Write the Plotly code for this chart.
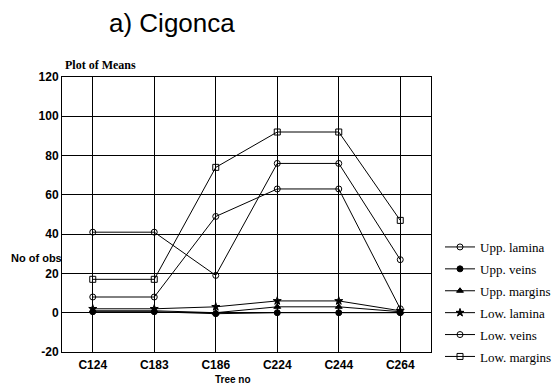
import plotly.graph_objects as go

categories = ["C124", "C183", "C186", "C224", "C244", "C264"]
upp_lamina = [8, 8, 49, 63, 63, 2]
upp_veins = [0.5, 0.5, -0.5, 0, 0, 0]
upp_margins = [1, 1, 0, 3, 3, 0.5]
low_lamina = [2, 2, 3, 6, 6, 1]
low_veins = [41, 41, 19, 76, 76, 27]
low_margins = [17, 17, 74, 92, 92, 47]
y_ticks = [-20, 0, 20, 40, 60, 80, 100, 120]
y_tick_labels = ["-20", "0", "20", "40", "60", "80", "100", "120"]

series = [
    ("Upp. lamina", upp_lamina, "circle-open"),
    ("Upp. veins", upp_veins, "circle"),
    ("Upp. margins", upp_margins, "triangle-up"),
    ("Low. lamina", low_lamina, "star"),
    ("Low. veins", low_veins, "circle-open"),
    ("Low. margins", low_margins, "square-open"),
]

fig = go.Figure()
for i, (name, vals, sym) in enumerate(series):
    fig.add_trace(go.Scatter(
        x=categories, y=vals, name=name, mode="lines+markers",
        line=dict(color="black", width=1),
        marker=dict(symbol=sym, size=6, color="black", line=dict(color="black", width=1)),
        legendgroup=f"g{i}",
    ))

L, R, T, B = 62, 123, 77, 34
PW, PH = 554 - L - R, 386 - T - B

def px_x(p):
    return (p - L) / PW

def px_y(p):
    return (386 - B - p) / PH

bold_sans = dict(family="Liberation Sans, Arial", size=12, color="black", weight="bold")

fig.update_layout(
    width=554, height=386,
    margin=dict(l=L, r=R, t=T, b=B, autoexpand=False),
    paper_bgcolor="white", plot_bgcolor="white",
    font=dict(family="Liberation Sans, Arial", color="black"),
    showlegend=True,
    legend=dict(
        x=px_x(440), y=px_y(232), xanchor="left", yanchor="top",
        font=dict(family="Liberation Serif", size=13, color="black"),
        tracegroupgap=2, itemwidth=30, bgcolor="rgba(0,0,0,0)",
    ),
    annotations=[
        dict(text="a) Cigonca", x=px_x(172), y=px_y(23), xref="paper", yref="paper",
             xanchor="center", yanchor="middle", showarrow=False,
             font=dict(family="Liberation Sans, Arial", size=26, color="black")),
        dict(text="Plot of Means", x=px_x(63), y=px_y(65), xref="paper", yref="paper",
             xanchor="left", yanchor="middle", showarrow=False,
             font=dict(family="Liberation Serif", size=12, color="black", weight="bold")),
        dict(text="No of obs", x=px_x(64), y=px_y(258), xref="paper", yref="paper",
             xanchor="right", yanchor="middle", showarrow=False,
             font=dict(family="Liberation Sans, Arial", size=11, color="black", weight="bold")),
        dict(text="Tree no", x=px_x(233), y=px_y(379), xref="paper", yref="paper",
             xanchor="center", yanchor="middle", showarrow=False,
             font=dict(family="Liberation Sans, Arial", size=10, color="black", weight="bold")),
    ],
)

fig.update_xaxes(
    type="category", range=[-0.5, 5.5],
    showgrid=True, gridcolor="black", gridwidth=1,
    showline=True, linecolor="black", linewidth=1, mirror=True,
    ticks="", tickfont=bold_sans, ticklabelstandoff=2,
)
fig.update_yaxes(
    range=[-20, 120], tickvals=y_ticks, ticktext=y_tick_labels,
    showgrid=True, gridcolor="black", gridwidth=1, zeroline=False,
    showline=True, linecolor="black", linewidth=1, mirror=True,
    ticks="", tickfont=bold_sans,
)

fig.write_html("out.html")
